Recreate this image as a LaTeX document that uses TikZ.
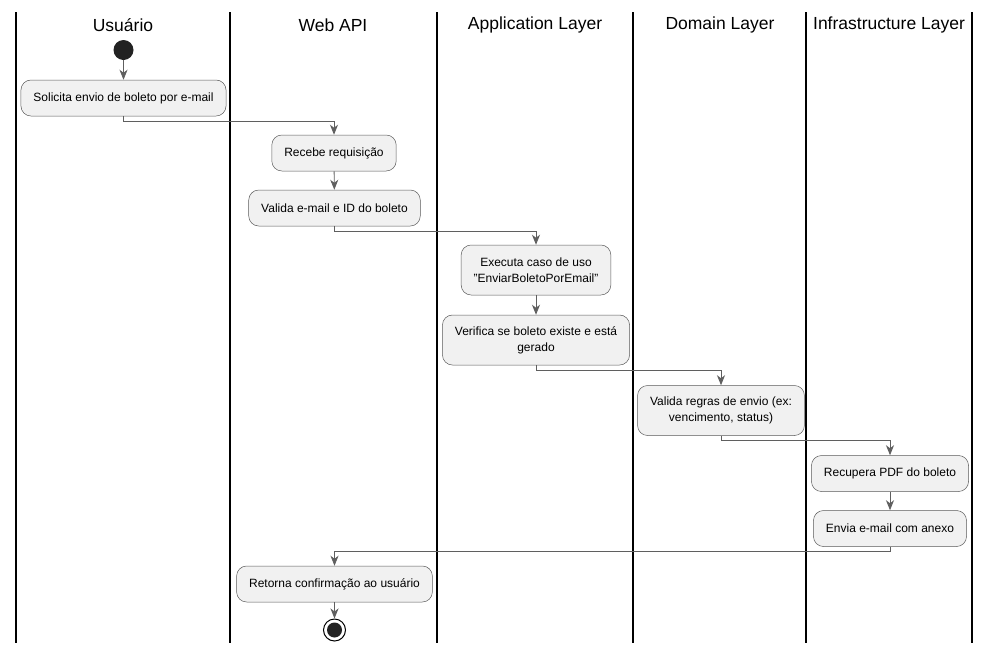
\documentclass[tikz,border=0pt]{standalone}
\usepackage{fontspec}
\setmainfont{Liberation Sans}
\usepackage{tikz}
\usetikzlibrary{arrows.meta}

\definecolor{actfill}{HTML}{F1F1F1}
\definecolor{actline}{HTML}{5A5A5A}
\definecolor{flowgray}{HTML}{5F5F5F}
\definecolor{dotfill}{HTML}{222222}

\tikzset{
    lane/.style={line width=1.3pt, black},
    lanetitle/.style={font=\fontsize{17.5}{20}\selectfont, anchor=center},
    act/.style={draw=actline, fill=actfill, line width=0.5pt, rounded corners=10pt,
        font=\fontsize{12}{16}\selectfont, align=center, inner xsep=12.5pt, minimum height=36pt},
    acttwo/.style={act, minimum height=50pt},
    flow/.style={draw=flowgray, line width=0.9pt, -{Stealth[length=10pt, width=8pt, inset=3pt]}},
    startdot/.style={circle, fill=dotfill, minimum size=20pt, inner sep=0pt},
    endring/.style={circle, draw=black, line width=1pt, fill=white, minimum size=22pt, inner sep=0pt},
    enddot/.style={circle, fill=dotfill, minimum size=15pt, inner sep=0pt}
}

\begin{document}
\begin{tikzpicture}[x=1pt, y=-1pt]
    \useasboundingbox (0,0) rectangle (990,654);

    % Swimlane borders
    \foreach \x in {16, 230, 437, 633, 806, 972} {
        \draw[lane] (\x, 12) -- (\x, 643);
    }

    % Swimlane titles
    \node[lanetitle] at (123, 25) {Usuário};
    \node[lanetitle] at (333, 25) {Web API};
    \node[lanetitle] at (535, 25) {Application Layer};
    \node[lanetitle] at (720, 25) {Domain Layer};
    \node[lanetitle] at (889, 25) {Infrastructure Layer};

    % Activities
    \node[startdot] (start) at (123.5, 50) {};
    \node[act] (solicita) at (123.5, 98) {Solicita envio de boleto por e-mail};
    \node[act] (recebe) at (334, 153) {Recebe requisição};
    \node[act] (valida) at (334.5, 208) {Valida e-mail e ID do boleto};
    \node[acttwo] (executa) at (536, 270) {Executa caso de uso\\"EnviarBoletoPorEmail"};
    \node[acttwo] (verifica) at (536, 340) {Verifica se boleto existe e está\\gerado};
    \node[acttwo] (regras) at (721, 410.5) {Valida regras de envio (ex:\\vencimento, status)};
    \node[act] (recupera) at (890, 473.5) {Recupera PDF do boleto};
    \node[act] (envia) at (890, 528.5) {Envia e-mail com anexo};
    \node[act] (retorna) at (334.5, 584) {Retorna confirmação ao usuário};
    \node[endring] (stop) at (334.5, 630) {};
    \node[enddot] at (stop) {};

    % Flow between lanes
    \draw[flow] (start) -- (solicita);
    \draw[flow] (solicita.south) -- ++(0, 5) -| (recebe.north);
    \draw[flow] (recebe) -- (valida);
    \draw[flow] (valida.south) -- ++(0, 5) -| (executa.north);
    \draw[flow] (executa) -- (verifica);
    \draw[flow] (verifica.south) -- ++(0, 5) -| (regras.north);
    \draw[flow] (regras.south) -- ++(0, 5) -| (recupera.north);
    \draw[flow] (recupera) -- (envia);
    \draw[flow] (envia.south) -- ++(0, 5) -| (retorna.north);
    \draw[flow] (retorna) -- (stop);
\end{tikzpicture}
\end{document}
